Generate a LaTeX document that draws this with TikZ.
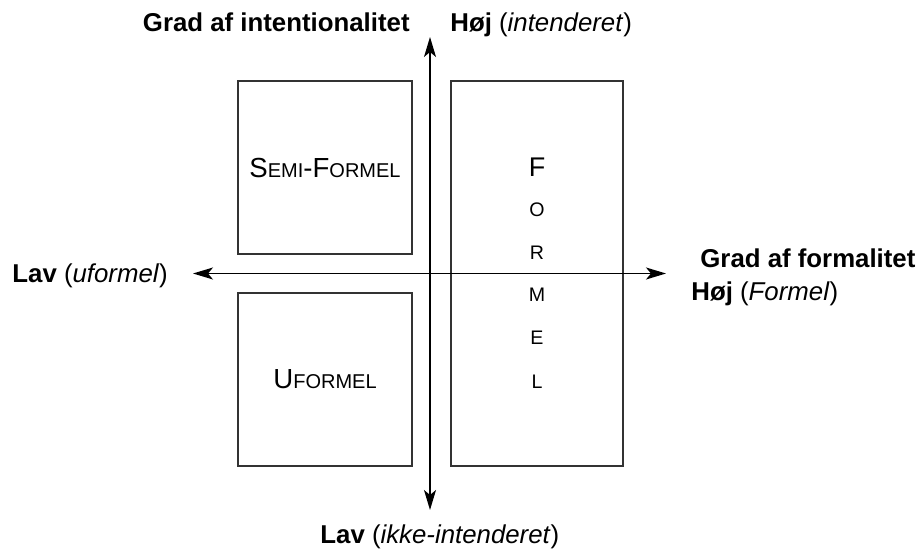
\documentclass[tikz,border=0pt]{standalone}
\usepackage{fontspec}
\setmainfont{Liberation Sans}
\usetikzlibrary{arrows.meta}

\newcommand\kapit[2]{#1{\fontsize{10}{12}\selectfont #2}}

\begin{document}
\begin{tikzpicture}[x=0.5pt,y=-0.5pt,>={Stealth[length=10pt,width=6pt,inset=2.5pt]},
  felt/.style={draw=black!80,line width=0.65pt,minimum width=87pt,minimum height=86.5pt,
    inner sep=0pt,font=\fontsize{13.8}{16}\selectfont},
  akse/.style={line width=0.65pt,<->},
  lbl/.style={inner sep=0pt,font=\fontsize{12.9}{15}\selectfont}]
  \useasboundingbox (0,0) rectangle (917,551);
  \node[felt] (semi) at (325,167.5) {\kapit{S}{EMI}-\kapit{F}{ORMEL}};
  \node[felt] (uform) at (325,379.5) {\kapit{U}{FORMEL}};
  \node[felt,minimum width=86pt,minimum height=192.5pt] (formel) at (537,273.5) {};
  \node[lbl,font=\fontsize{13.5}{16}\selectfont] (bogstF) at (537,167) {F};
  \foreach \b/\y in {O/210,R/253,M/295,E/338,L/382}
    \node[lbl,font=\fontsize{9.8}{12}\selectfont] (bogst\b) at (537,\y) {\b};
  \coordinate (venstre) at (193,273.5);
  \coordinate (hoejre) at (666,273.5);
  \coordinate (top) at (430,37);
  \coordinate (bund) at (430,510);
  \draw[akse] (venstre) -- (hoejre);
  \draw[akse] (bund) -- (top);
  \node[lbl,anchor=base east] (intent) at (410,32) {\textbf{Grad af intentionalitet}};
  \node[lbl,anchor=base west] (hoejint) at (450,32) {\textbf{Høj} (\textit{intenderet})};
  \node[lbl,anchor=base west] (formal) at (700,268) {\textbf{Grad af formalitet}};
  \node[lbl,anchor=base west] (hoejform) at (691,300) {\textbf{Høj} (\textit{Formel})};
  \node[lbl,anchor=base west] (lavform) at (12,283) {\textbf{Lav} (\textit{uformel})};
  \node[lbl,anchor=base west] (lavint) at (320,543) {\textbf{Lav} (\textit{ikke-intenderet})};
\end{tikzpicture}
\end{document}
